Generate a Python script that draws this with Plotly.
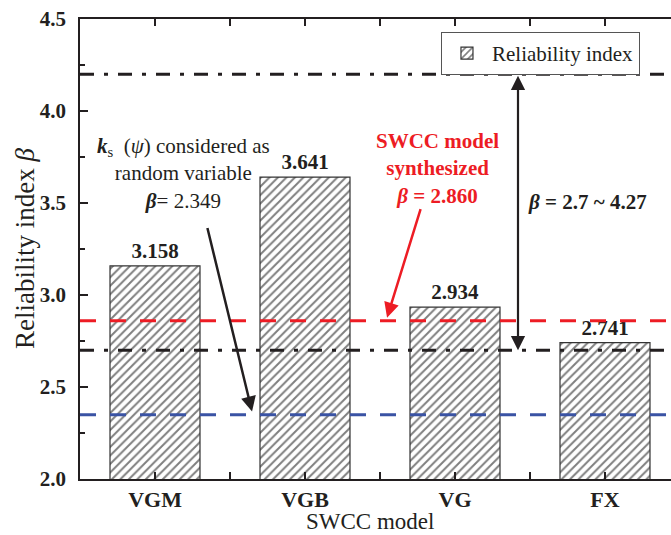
import plotly.graph_objects as go

# ---- data ----
categories = ["VGM", "VGB", "VG", "FX"]
beta_values = [3.158, 3.641, 2.934, 2.741]
value_labels = ["3.158", "3.641", "2.934", "2.741"]
beta_random_ks = 2.349      # blue dashed line
beta_synth = 2.860          # red dashed line
beta_range_low = 2.7        # black dash-dot (lower)
beta_range_high = 4.2       # black dash-dot (upper)
y_ticks = [2.0, 2.5, 3.0, 3.5, 4.0, 4.5]

FONT = "'Liberation Serif', 'Times New Roman', Tinos, 'DejaVu Serif', serif"
BLACK = "#231f20"
RED = "#ed1c24"
BLUE = "#3a53a4"

xpos = list(range(len(categories)))
tickvals = []
ticktext = []
for i, c in enumerate(categories):
    tickvals += [i - 0.5, i]
    ticktext += ["", c]
tickvals.append(len(categories) - 0.5)
ticktext.append("")

fig = go.Figure()
fig.add_trace(go.Bar(
    x=xpos, y=beta_values, width=0.6, name="Reliability index",
    marker=dict(color="white", line=dict(color="#333", width=1.2),
                pattern=dict(shape="/", size=6, solidity=0.33,
                             fgcolor="#000", bgcolor="white")),
    text=value_labels, textposition="outside", cliponaxis=False,
    textfont=dict(family=FONT, size=21, color=BLACK, weight="bold"),
    showlegend=True,
))

shapes = []
for lvl, col, dash in [
    (beta_synth, RED, "16px,14px"),
    (beta_random_ks, BLUE, "16px,14px"),
    (beta_range_low, BLACK, "14px,10px,4px,10px"),
    (beta_range_high, BLACK, "14px,10px,4px,10px"),
]:
    shapes.append(dict(type="line", xref="paper", x0=0, x1=1, yref="y",
                       y0=lvl, y1=lvl, layer="above",
                       line=dict(color=col, width=3, dash=dash)))

annotations = [
    # double arrow for range
    dict(x=2.42, y=beta_range_low, ax=2.42, ay=beta_range_high,
         xref="x", yref="y", axref="x", ayref="y", text="", showarrow=True,
         arrowhead=2, startarrowhead=2, arrowside="end+start", arrowsize=1.3,
         startarrowsize=1.3, arrowwidth=2.2, arrowcolor=BLACK, standoff=0,
         startstandoff=0),
    dict(x=2.47, y=3.505, xref="x", yref="y", xanchor="left", showarrow=False,
         text="<b><i>β</i> = 2.7 ~ 4.27</b>",
         font=dict(family=FONT, size=21, color=BLACK)),
    # red annotation
    dict(x=1.88, y=3.69, xref="x", yref="y", showarrow=False, align="center",
         text="<b>SWCC model<br>synthesized<br><i>β</i> = 2.860</b>",
         font=dict(family=FONT, size=21, color=RED)),
    dict(x=1.547, y=2.877, xref="x", yref="y", ax=34, ay=-110, text="",
         showarrow=True, arrowhead=2, arrowsize=1.2, arrowwidth=2.5,
         arrowcolor=RED, standoff=0),
    # black annotation
    dict(x=0.187, y=3.66, xref="x", yref="y", showarrow=False, align="center",
         text="<b><i>k</i></b><sub>s</sub>  (<i>ψ</i>) considered as<br>random variable<br><b><i>β</i></b>= 2.349",
         font=dict(family=FONT, size=21, color=BLACK)),
    dict(x=0.647, y=2.367, xref="x", yref="y", ax=-45, ay=-185, text="",
         showarrow=True, arrowhead=2, arrowsize=1.2, arrowwidth=2.5,
         arrowcolor=BLACK, standoff=0),
    # axis titles
    dict(x=-0.093, y=0.5, xref="paper", yref="paper", showarrow=False,
         xanchor="center", yanchor="middle",
         textangle=-90, text="Reliability index <i>β</i>",
         font=dict(family=FONT, size=27, color=BLACK)),
    dict(x=0.49, y=-0.092, xref="paper", yref="paper", showarrow=False,
         xanchor="center", yanchor="middle", text="SWCC model",
         font=dict(family=FONT, size=23, color=BLACK)),
]

fig.update_layout(
    width=671, height=535,
    margin=dict(l=80, r=0, t=19, b=56),
    plot_bgcolor="white", paper_bgcolor="white",
    font=dict(family=FONT, color=BLACK),
    shapes=shapes, annotations=annotations,
    legend=dict(x=0.9475, y=0.972, xanchor="right", yanchor="top",
                bordercolor="#555", borderwidth=1, bgcolor="white",
                font=dict(family=FONT, size=21, color=BLACK),
                itemwidth=40, tracegroupgap=0),
    xaxis=dict(range=[-0.5, 3.44], tickmode="array", tickvals=tickvals,
               ticktext=ticktext, ticks="inside", ticklen=7, tickwidth=1.5,
               tickcolor=BLACK, showline=True, linecolor=BLACK, linewidth=1.8,
               mirror="allticks", showgrid=False, zeroline=False,
               tickfont=dict(family=FONT, size=22, color=BLACK, weight="bold"),
               ticklabelstandoff=0),
    yaxis=dict(range=[2.0, 4.5], tickmode="array", tickvals=y_ticks,
               ticktext=[f"{v:.1f}" for v in y_ticks],
               ticks="inside", ticklen=8, tickwidth=1.5, tickcolor=BLACK,
               minor=dict(dtick=0.25, ticks="inside", ticklen=5, tickwidth=1.5,
                          tickcolor=BLACK),
               showline=True, linecolor=BLACK, linewidth=1.8, mirror=False,
               showgrid=False, zeroline=False,
               tickfont=dict(family=FONT, size=21, color=BLACK, weight="bold"),
               ticklabelstandoff=8),
    bargap=0.4,
)

fig.write_html("out.html")
